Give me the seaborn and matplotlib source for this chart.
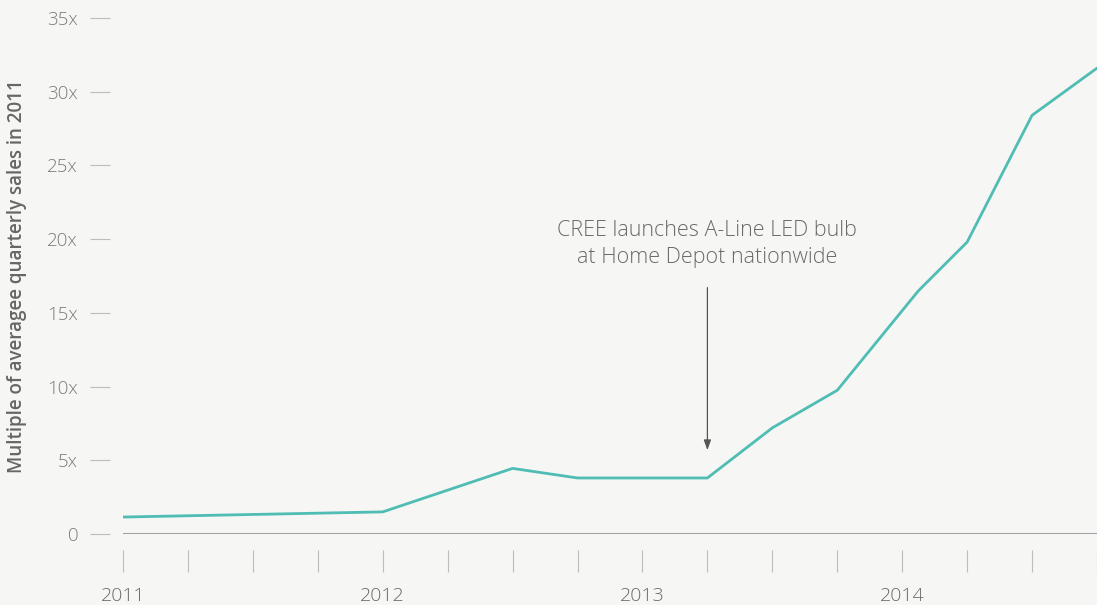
import numpy as np
import pandas as pd
import seaborn as sns
import matplotlib.pyplot as plt

# quarters since 2011 Q1, multiple of average quarterly sales in 2011
quarter = [0, 4, 6, 7, 9, 10, 11, 12.25, 13, 14, 15]
multiple = [1.15, 1.5, 4.45, 3.8, 3.8, 7.2, 9.75, 16.5, 19.8, 28.4, 31.6]
year_labels = ["2011", "2012", "2013", "2014"]
y_ticks = [0, 5, 10, 15, 20, 25, 30, 35]
y_labels = ["0", "5x", "10x", "15x", "20x", "25x", "30x", "35x"]
note = "CREE launches A-Line LED bulb\nat Home Depot nationwide"
note_x = 9

bg = "#f6f6f4"
sns.set_theme(style="white")
plt.rcParams["font.family"] = ["Open Sans", "DejaVu Sans"]

df = pd.DataFrame({"quarter": quarter, "multiple": multiple})

fig = plt.figure(figsize=(10.97, 6.05), dpi=100, facecolor=bg)
ax = fig.add_axes([123 / 1097, 71 / 605, 1 - 123 / 1097, 516 / 605])
ax.set_facecolor(bg)

ax.axhline(0, color="#a0a0a0", lw=2.2, zorder=1)
sns.lineplot(data=df, x="quarter", y="multiple", color="#4fbdb3", lw=2, ax=ax, zorder=3)

ax.set_xlim(0, 15)
ax.set_ylim(0, 35)
for s in ax.spines.values():
    s.set_visible(False)
ax.spines["left"].set_position(("outward", 9.4))
ax.spines["bottom"].set_position(("outward", 11.5))

ax.set_yticks(y_ticks)
ax.set_yticklabels(y_labels, fontweight="light")
ax.tick_params(axis="y", direction="out", length=14.4, width=0.8, color="#bdbdbd",
               pad=8.5, labelsize=13.5, labelcolor="#7a7a7a", left=True)

ax.set_xticks(np.arange(0, 16))
ax.set_xticklabels([year_labels[i // 4] if i % 4 == 0 else "" for i in range(16)],
                   fontweight="light")
ax.tick_params(axis="x", direction="out", length=15.8, width=0.8, color="#bdbdbd",
               pad=11, labelsize=14, labelcolor="#6a6a6a", bottom=True)

ax.set_xlabel("")
ax.set_ylabel("Multiple of averagee quarterly sales in 2011", fontsize=13.5,
              fontweight=600, color="#666666")
ax.yaxis.set_label_coords(-96 / 974, 0.5)

ax.annotate("", xy=(note_x, 5.5), xytext=(note_x, 16.9),
            arrowprops=dict(arrowstyle="-|>,head_length=0.5,head_width=0.18",
                            color="#555555", lw=0.9))
ax.text(note_x, 18.05, note, ha="center", va="bottom", fontsize=15.5,
        fontweight="light", color="#6a6a6a", linespacing=1.35)

fig.savefig("out.png", dpi=100, facecolor=bg)
